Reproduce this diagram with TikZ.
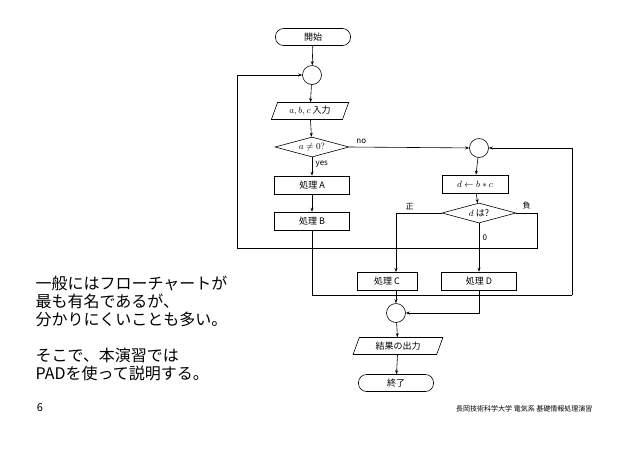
\documentclass[tikz,border=0pt]{standalone}
\usepackage{fontspec}
\newfontfamily\jp{Noto Sans CJK JP}
\usetikzlibrary{shapes,arrows.meta}
\tikzset{
  box/.style={draw,minimum width=75pt,minimum height=18pt,inner sep=1pt,font=\jp\fontsize{9}{10}\selectfont},
  term/.style={draw,rounded corners=8pt,minimum width=75pt,minimum height=17pt,inner sep=1pt,font=\jp\fontsize{9}{10}\selectfont},
  io/.style={draw,trapezium,trapezium left angle=70,trapezium right angle=110,minimum width=56pt,minimum height=17pt,inner sep=1pt,font=\jp\fontsize{9}{10}\selectfont},
  dec/.style={draw,diamond,aspect=3.8,inner sep=0pt,minimum width=74pt,minimum height=20pt,font=\jp\fontsize{9}{10}\selectfont},
  jn/.style={draw,circle,minimum size=19pt,inner sep=0pt},
  lab/.style={font=\jp\fontsize{8}{9}\selectfont},
  every path/.style={line width=0.6pt},
}
\begin{document}
\begin{tikzpicture}[x=1pt,y=-1pt,>={Stealth[length=4pt,width=3pt]}]
      \useasboundingbox (0,0) rectangle (638,451);
      \node[term] (st) at (313,37) {開始};
      \node[jn] (j1) at (312,75) {};
      \node[io] (in) at (310,111) {\(a,b,c\) 入力};
      \node[dec] (q1) at (312,147) {\(a\neq0?\)};
      \node[box] (pa) at (312,185) {処理 A};
      \node[box] (pb) at (312,221) {処理 B};
      \node[jn] (j2) at (479,148) {};
      \node[box,minimum width=66pt] (dc) at (475,184) {\(d\leftarrow b*c\)};
      \node[dec] (q2) at (479,213) {\(d\) は?};
      \node[box,minimum width=60pt] (pc) at (387,281) {処理 C};
      \node[box] (pd) at (479,281) {処理 D};
      \node[jn] (j3) at (396,313) {};
      \node[io] (out) at (398,346) {結果の出力};
      \node[term] (en) at (396,383) {終了};
      \coordinate (l1) at (237,248);
      \coordinate (l2) at (237,75);
      \coordinate (r1) at (572,295);
      \coordinate (r2) at (572,148);
      \draw [->] (st) -- (j1);
      \draw [->] (j1) -- (in);
      \draw [->] (in) -- (q1);
      \draw [->] (q1) -- node[lab,right,pos=0.4] {yes} (pa);
      \draw [->] (pa) -- (pb);
      \draw [->] (q1.east) -- node[lab,above,pos=0.1] {no} (j2);
      \draw [->] (j2) -- (dc);
      \draw [->] (dc) -- (q2);
      \draw [->] (q2.west) -- node[lab,above,pos=0.7] {正} (396,213) -- (396,272);
      \draw [->] (q2.south) -- node[lab,right,pos=0.3] {0} (pd);
      \draw (q2.east) -- node[lab,above,pos=0.5] {負} (537,213) -- (537,248) -- (l1);
      \draw [->] (l1) -- (l2) -- (j1);
      \draw (pb) -- (312,295) -- (r1);
      \draw [->] (r1) -- (r2) -- (j2);
      \draw [->] (396,290) -- (j3);
      \draw [->] (pd) -- (479,313) -- (j3);
      \draw [->] (j3) -- (out);
      \draw [->] (out) -- (en);
      \node[anchor=west,align=left,font=\jp\fontsize{16}{18}\selectfont] (txt) at (32,328)
        {一般にはフローチャートが\\最も有名であるが、\\分かりにくいことも多い。\\[18pt]そこで、本演習では\\PADを使って説明する。};
      \node[font=\jp\fontsize{11}{12}\selectfont] (pg) at (40,408) {6};
      \node[anchor=east,font=\jp\fontsize{7}{8}\selectfont] (ft) at (596,409) {長岡技術科学大学 電気系 基礎情報処理演習};
    \end{tikzpicture}
\end{document}
